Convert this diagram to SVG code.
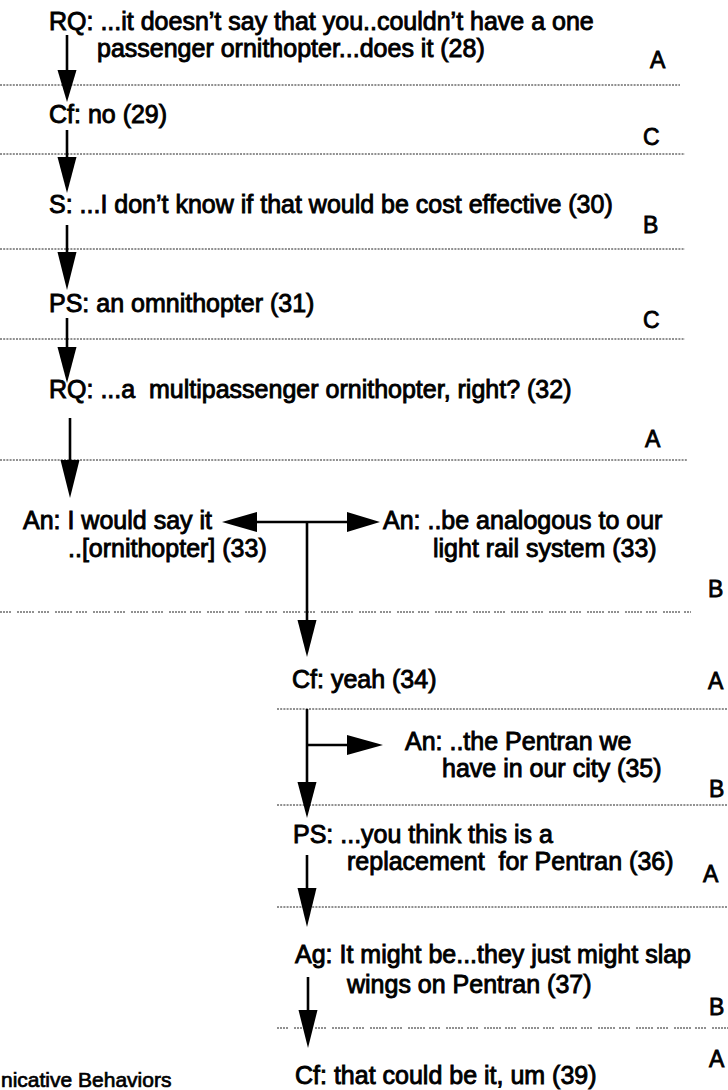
<svg xmlns="http://www.w3.org/2000/svg" width="728" height="1090" viewBox="0 0 728 1090">
  <defs>
    <style>
      text { font-family: "Liberation Sans", Arial, Helvetica, sans-serif; font-size: 25px; font-weight: normal; fill: #000; stroke: #000; stroke-width: 0.9; white-space: pre; }
      .tag { font-size: 23px; stroke-width: 0.8; }
      .caption { font-size: 21px; stroke-width: 0.7; }
      .rule { stroke: #222; stroke-width: 1; stroke-dasharray: 2 1.2; fill: none; }
      .rule-sparse { stroke: #222; stroke-width: 1; stroke-dasharray: 2 1 2 1 2 1 2 6 2 1 2 1 2 1 2 1 2 1 2 4; fill: none; }
      .shaft { stroke: #000; stroke-width: 2.6; fill: none; }
      .head { fill: #000; }
    </style>
  </defs>

  <rect width="728" height="1090" fill="#fff"/>

  <!-- turn separators -->
  <g id="rules">
    <line class="rule" x1="0" y1="85" x2="680" y2="85"/>
    <line class="rule" x1="0" y1="154" x2="685" y2="154"/>
    <line class="rule" x1="0" y1="249" x2="685" y2="249"/>
    <line class="rule" x1="0" y1="339" x2="685" y2="339"/>
    <line class="rule" x1="0" y1="460" x2="687" y2="460"/>
    <line class="rule-sparse" x1="0" y1="612" x2="691" y2="612"/>
    <line class="rule" x1="277" y1="709" x2="728" y2="709"/>
    <line class="rule" x1="277" y1="805" x2="728" y2="805"/>
    <line class="rule" x1="277" y1="907" x2="728" y2="907"/>
    <line class="rule-sparse" x1="277" y1="1028" x2="728" y2="1028"/>
  </g>

  <!-- utterances -->
  <g id="u28">
    <text x="49" y="30">RQ: ...it doesn’t say that you..couldn’t have a one</text>
    <text x="97" y="57">passenger ornithopter...does it (28)</text>
    <text class="tag" x="650" y="68">A</text>
  </g>
  <g id="u29">
    <text x="49" y="123">Cf: no (29)</text>
    <text class="tag" x="643" y="145">C</text>
  </g>
  <g id="u30">
    <text x="49" y="213">S: ...I don’t know if that would be cost effective (30)</text>
    <text class="tag" x="643" y="233">B</text>
  </g>
  <g id="u31">
    <text x="49" y="312">PS: an omnithopter (31)</text>
    <text class="tag" x="643" y="328">C</text>
  </g>
  <g id="u32">
    <text x="49" y="398">RQ: ...a  multipassenger ornithopter, right? (32)</text>
    <text class="tag" x="645" y="447">A</text>
  </g>
  <g id="u33a">
    <text x="23" y="529">An: I would say it</text>
    <text x="68" y="557">..[ornithopter] (33)</text>
  </g>
  <g id="u33b">
    <text x="383" y="529">An: ..be analogous to our</text>
    <text x="433" y="557">light rail system (33)</text>
    <text class="tag" x="708" y="597">B</text>
  </g>
  <g id="u34">
    <text x="292" y="688">Cf: yeah (34)</text>
    <text class="tag" x="708" y="689">A</text>
  </g>
  <g id="u35">
    <text x="405" y="750">An: ..the Pentran we</text>
    <text x="442" y="777">have in our city (35)</text>
    <text class="tag" x="709" y="797">B</text>
  </g>
  <g id="u36">
    <text x="293" y="843">PS: ...you think this is a</text>
    <text x="347" y="870">replacement  for Pentran (36)</text>
    <text class="tag" x="703" y="882">A</text>
  </g>
  <g id="u37">
    <text x="295" y="963">Ag: It might be...they just might slap</text>
    <text x="347" y="993">wings on Pentran (37)</text>
    <text class="tag" x="709" y="1015">B</text>
  </g>
  <g id="u39">
    <text x="295" y="1084">Cf: that could be it, um (39)</text>
    <text class="tag" x="709" y="1067">A</text>
  </g>
  <g id="caption">
    <text class="caption" x="1" y="1087">nicative Behaviors</text>
  </g>

  <!-- connectors -->
  <g id="connectors">
    <line class="shaft" x1="67" y1="35" x2="67" y2="72"/>
    <polygon class="head" points="57.5,70 76.5,70 67,102"/>

    <line class="shaft" x1="67" y1="130" x2="67" y2="159"/>
    <polygon class="head" points="57.5,157 76.5,157 67,193"/>

    <line class="shaft" x1="67" y1="225" x2="67" y2="254"/>
    <polygon class="head" points="57.5,252 76.5,252 67,290"/>

    <line class="shaft" x1="67" y1="318" x2="67" y2="349"/>
    <polygon class="head" points="57.5,347 76.5,347 67,383"/>

    <line class="shaft" x1="70" y1="418" x2="70" y2="462"/>
    <polygon class="head" points="60.5,460 79.5,460 70,498"/>

    <!-- split after (32) -->
    <line class="shaft" x1="255" y1="522" x2="349" y2="522"/>
    <polygon class="head" points="257,512 257,532 222,522"/>
    <polygon class="head" points="347,512 347,532 380,522"/>
    <line class="shaft" x1="307" y1="522" x2="307" y2="622"/>
    <polygon class="head" points="297.5,620 316.5,620 307,657"/>

    <!-- (34) to (35) and (36) -->
    <line class="shaft" x1="307" y1="709" x2="307" y2="784"/>
    <polygon class="head" points="297.5,782 316.5,782 307,818"/>
    <line class="shaft" x1="307" y1="745" x2="349" y2="745"/>
    <polygon class="head" points="347,735 347,755 383,745"/>

    <line class="shaft" x1="307" y1="855" x2="307" y2="890"/>
    <polygon class="head" points="297.5,888 316.5,888 307,927"/>

    <line class="shaft" x1="308" y1="977" x2="308" y2="1012"/>
    <polygon class="head" points="298.5,1010 317.5,1010 308,1048"/>
  </g>
</svg>
